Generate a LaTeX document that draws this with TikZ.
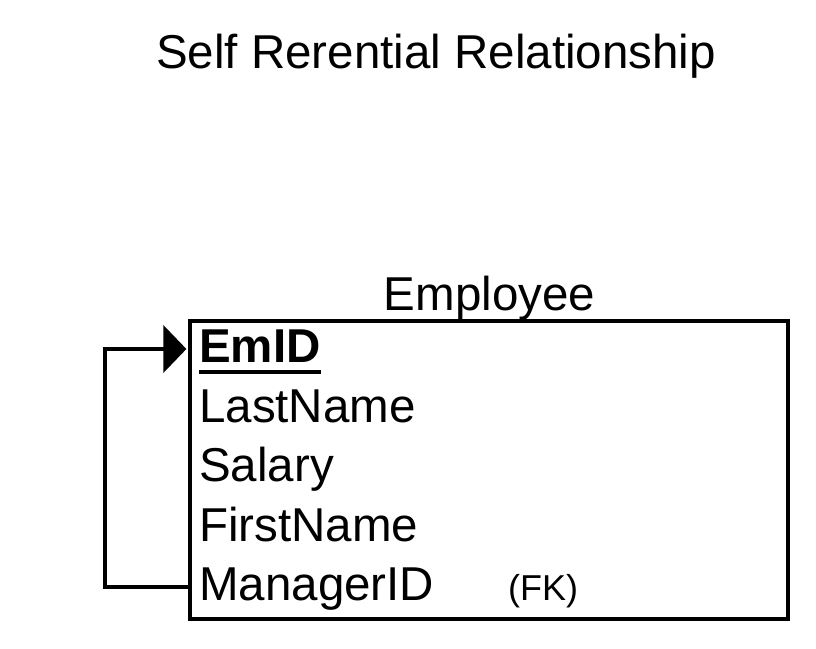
\documentclass[tikz,border=0pt]{standalone}
\usepackage{fontspec}
\setmainfont{Liberation Sans}
\usetikzlibrary{positioning,arrows.meta}

\begin{document}
\begin{tikzpicture}[x=1pt,y=-1pt,
  big/.style={font=\fontsize{47.5}{52}\selectfont},
  tablebox/.style={
    rectangle,
    draw=black,
    line width=3.6pt,
    minimum width=598pt,
    minimum height=298pt,
    inner sep=0pt,
  },
  field/.style={
    big,
    anchor=base west,
    inner sep=0pt,
    text height=26pt,
    text depth=0pt,
  },
  link/.style={line width=3.6pt,-{Triangle[length=23pt,width=47pt]}}]
\useasboundingbox (0,0) rectangle (816,648);
\node[big,anchor=base] (title) at (436,68) {Self Rerential Relationship};
\node[tablebox] (employee) at (489,470) {};
\node[big,anchor=base] (tablename) at (489.5,310) {Employee};
\node[field] (emid) at (199,362) {\textbf{EmID}};
\node[field] (lastname) at (199,422) {LastName};
\node[field] (salary) at (199,481.5) {Salary};
\node[field] (firstname) at (199,541) {FirstName};
\node[field] (managerid) at (199,600) {ManagerID};
\node[anchor=base west,inner sep=0pt,font=\fontsize{36}{40}\selectfont] (fk) at (508,600) {(FK)};
\draw[line width=3.6pt] ([yshift=-10pt]emid.base west) -- ([yshift=-10pt]emid.base east);
\draw[link,shorten >=1.8pt] (managerid.west -| employee.west) -- ++(-83,0) |- (emid.west -| employee.west);
\end{tikzpicture}
\end{document}
